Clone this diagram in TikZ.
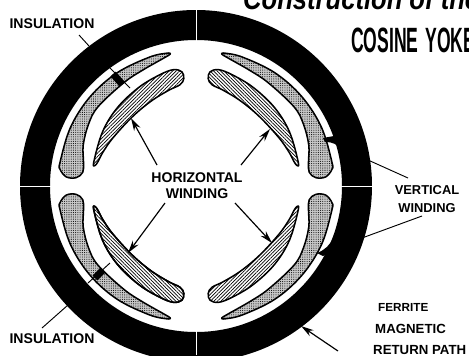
\documentclass[tikz,border=0pt]{standalone}
\usepackage{fontspec}
\setmainfont{Liberation Sans}
\usetikzlibrary{patterns.meta,arrows.meta}
\newcommand{\outercoil}{plot[smooth cycle,tension=.6] coordinates {(170:138) (155:138.5) (140:138.5)
  (125:138) (110:137) (102.5:136) (101:134.5) (104:132) (115:127.5) (125:126) (141:126) (150:124)
  (160:120) (168:115) (173:114) (176:120) (176:130) (173:137)}}
\newcommand{\innercoil}{plot[smooth cycle,tension=.6] coordinates {(167:105) (150:108) (135:111)
  (120:114) (108:117) (101:118.5) (97:115) (96.5:108) (99:102.5) (106:99.5) (118:96) (133:94)
  (150:96) (160:99) (166:101) (168.5:103)}}
\tikzset{
  lbl/.style={font=\fontsize{12}{13.7}\selectfont\bfseries,inner sep=0pt,align=center},
  sidelbl/.style={font=\fontsize{11.3}{13.7}\selectfont\bfseries,inner sep=0pt,anchor=west},
  leader/.style={line width=.8pt},
  pointer/.style={line width=1pt,-{Stealth[length=11pt,width=6pt]}},
  coil/.style={draw,line width=1.3pt,line join=round},
  stipple/.style={preaction={fill=black!22},pattern={Dots[radius=.45pt,distance=1.9pt]}},
  hatch/.style={pattern={Lines[angle=#1,distance=2.1pt,line width=.6pt]}}
}
\begin{document}
\begin{tikzpicture}[x=.03cm,y=.03cm]
\path[use as bounding box] (0,-355) rectangle (469,0);
\clip (0,-355) rectangle (469,0);
% return path ring
\coordinate (hub) at (196,-186);
\fill[even odd rule] (hub) circle (176) (hub) circle (146);
\draw[white,line width=.7pt] (196,-5) -- (196,-44) (196,-330) -- (196,-355) (15,-186) -- (54,-186) (338,-186) -- (377,-186);
% windings, one quadrant turned into four
\foreach \sx/\sy/\ang in {1/1/45,-1/1/-45,1/-1/-45,-1/-1/45}{
\begin{scope}[shift={(hub)},xscale=\sx,yscale=\sy]
\path[coil,stipple] \outercoil;
\path[coil,hatch=\ang] \innercoil;
\end{scope}}
% lower left coil runs into stipple
\begin{scope}[shift={(hub)},yscale=-1]
\begin{scope}
\clip \innercoil;
\fill[white] (90:85) rectangle (-30:125);
\path[stipple] (90:85) rectangle (-30:125);
\end{scope}
\draw[coil] \innercoil;
\end{scope}
% insulation bands
\draw[line width=6pt] (113,-74) -- (122,-84);
\draw[leader] (110,-68) -- (130,-88);
\draw[line width=6pt] (95,-278) -- (103,-270);
\draw[leader] (88,-283) -- (110,-263);
% tabs on the right
\fill (323,-138) -- (334,-136) -- (338,-146) .. controls (333,-142) and (328,-142) .. (325,-142) -- cycle;
\fill (317,-253) .. controls (325,-250) and (330,-245) .. (333,-238) -- (340,-250) -- (323,-256) -- cycle;
% labels
\node[lbl] (insup) at (52,-24) {INSULATION};
\node[lbl] (inslow) at (52,-339) {INSULATION};
\node[lbl] (horiz) at (197,-186) {HORIZONTAL\\WINDING};
\node[lbl,font=\fontsize{11}{15}\selectfont\bfseries] (vert) at (427,-199) {VERTICAL\\WINDING};
\node[sidelbl,font=\fontsize{10}{12}\selectfont\bfseries] (ferrite) at (378,-307) {FERRITE};
\node[sidelbl] (magnetic) at (375,-329) {MAGNETIC};
\node[sidelbl] (path) at (373,-350) {RETURN PATH};
\node[inner sep=0pt,anchor=base west,font=\fontsize{30}{32}\selectfont\bfseries,xscale=.5] (yoke) at (351,-52) {COSINE\hspace{.12em} YOKE};
\node[inner sep=0pt,anchor=base west,font=\fontsize{26}{30}\selectfont\bfseries\itshape,xscale=.84] (title) at (243,-9) {Construction of the};
% leaders
\coordinate (a1) at (89,-46);
\coordinate (a2) at (68,-305);
\coordinate (b1) at (368,-160);
\coordinate (b2) at (362,-238);
\coordinate (c1) at (270,-129);
\coordinate (c2) at (131,-118);
\coordinate (c3) at (128,-253);
\coordinate (c4) at (272,-243);
\coordinate (d1) at (301,-326);
\draw[leader] (79,-35) -- (a1);
\draw[leader] (42,-328) -- (a2);
\draw[leader] (b1) -- (408,-178);
\draw[leader] (b2) -- (422,-216);
\draw[pointer] (157,-165) -- (c2);
\draw[pointer] (241,-165) -- (c1);
\draw[pointer] (165,-203) -- (c3);
\draw[pointer] (235,-203) -- (c4);
\draw[pointer] (338,-351) -- (d1);
\end{tikzpicture}
\end{document}
